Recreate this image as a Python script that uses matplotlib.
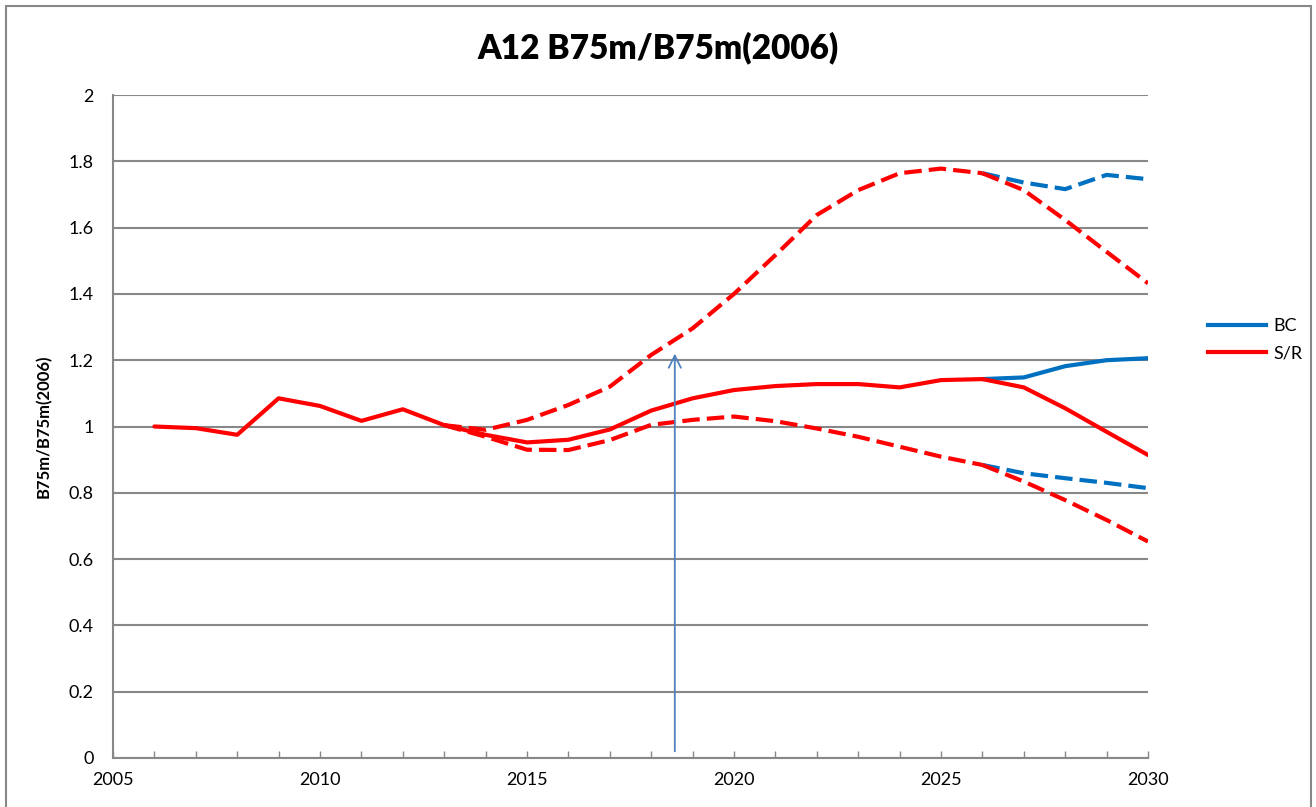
import numpy as np
import matplotlib.pyplot as plt
from matplotlib.lines import Line2D
from matplotlib.patches import Rectangle

plt.rcParams["font.family"] = ["Lato", "DejaVu Sans"]

# data
years_hist = list(range(2006, 2027))
central = [1.000, 0.995, 0.975, 1.085, 1.062, 1.017, 1.052, 1.004, 0.975, 0.952,
           0.960, 0.991, 1.048, 1.085, 1.110, 1.122, 1.128, 1.128, 1.118, 1.140,
           1.143]

years_band = list(range(2013, 2027))
upper = [1.004, 0.990, 1.020, 1.065, 1.120, 1.216, 1.296, 1.400, 1.517, 1.638,
         1.713, 1.764, 1.778, 1.764]
lower = [1.004, 0.969, 0.930, 0.929, 0.959, 1.005, 1.020, 1.030, 1.016, 0.994,
         0.969, 0.939, 0.909, 0.884]

years_proj = [2026, 2027, 2028, 2029, 2030]
bc_central = [1.143, 1.148, 1.182, 1.200, 1.206]
bc_upper = [1.764, 1.736, 1.716, 1.759, 1.746]
bc_lower = [0.884, 0.859, 0.844, 0.830, 0.814]
sr_central = [1.143, 1.118, 1.055, 0.984, 0.914]
sr_upper = [1.764, 1.713, 1.623, 1.527, 1.432]
sr_lower = [0.884, 0.834, 0.778, 0.718, 0.653]

arrow_year = 2018.57
arrow_top = 1.22

BLUE = "#0070C0"
RED = "#FF0000"
GRID = "#888888"
W, H = 1316, 807

fig = plt.figure(figsize=(W / 100, H / 100), dpi=100)
fig.patches.append(Rectangle((6 / W, -0.01), (1311 - 6) / W, 1 - 6 / H + 0.01,
                             transform=fig.transFigure, fill=False,
                             edgecolor=GRID, lw=1.5))
ax = fig.add_axes([113 / W, 1 - 758 / H, (1148 - 113) / W, (758 - 95) / H])

lw = 3.0
dash = (0, (4.2, 1.7))
ax.plot(years_proj, bc_central, color=BLUE, lw=lw, solid_capstyle="round")
ax.plot(years_proj, bc_upper, color=BLUE, lw=lw, linestyle=dash)
ax.plot(years_proj, bc_lower, color=BLUE, lw=lw, linestyle=dash)
ax.plot(years_proj, sr_central, color=RED, lw=lw, solid_capstyle="round")
ax.plot(years_proj, sr_upper, color=RED, lw=lw, linestyle=dash)
ax.plot(years_proj, sr_lower, color=RED, lw=lw, linestyle=dash)
ax.plot(years_band, upper, color=RED, lw=lw, linestyle=dash)
ax.plot(years_band, lower, color=RED, lw=lw, linestyle=dash)
ax.plot(years_hist, central, color=RED, lw=lw, solid_capstyle="round")

ax.annotate("", xy=(arrow_year, arrow_top), xytext=(arrow_year, 0.02),
            arrowprops=dict(arrowstyle="->", color="#4F81BD", lw=1.3,
                            mutation_scale=22, shrinkA=0, shrinkB=0))

ax.set_xlim(2005, 2030)
ax.set_ylim(0, 2)
ax.set_xticks(range(2005, 2031, 5))
ax.set_xticks(range(2005, 2031), minor=True)
ax.set_yticks(np.arange(0, 2.01, 0.2))
ax.set_yticklabels(["0", "0.2", "0.4", "0.6", "0.8", "1", "1.2", "1.4", "1.6", "1.8", "2"])
ax.yaxis.grid(True, color=GRID, lw=1.5)
ax.set_axisbelow(True)
for s in ["top", "right"]:
    ax.spines[s].set_visible(False)
for s in ["left", "bottom"]:
    ax.spines[s].set_color(GRID)
    ax.spines[s].set_linewidth(1.5)
ax.tick_params(axis="y", length=0, pad=14, labelsize=13)
ax.tick_params(axis="x", which="both", direction="in", color=GRID, width=1,
               labelsize=13, pad=10)
ax.tick_params(axis="x", which="major", length=5)
ax.tick_params(axis="x", which="minor", length=5)

ax.set_ylabel("B75m/B75m(2006)", fontsize=12, fontweight="bold", labelpad=12)
fig.text(0.5, 1 - 48 / H, "A12 B75m/B75m(2006)", ha="center", va="center",
         fontsize=24, fontweight="heavy")

handles = [Line2D([], [], color=BLUE, lw=lw), Line2D([], [], color=RED, lw=lw)]
fig.legend(handles, ["BC", "S/R"], loc="upper left", frameon=False,
           bbox_to_anchor=(1192 / W, 1 - 302 / H), fontsize=13,
           handlelength=3.2, handletextpad=0.4, labelspacing=0.6)

fig.savefig("out.png", dpi=100)
